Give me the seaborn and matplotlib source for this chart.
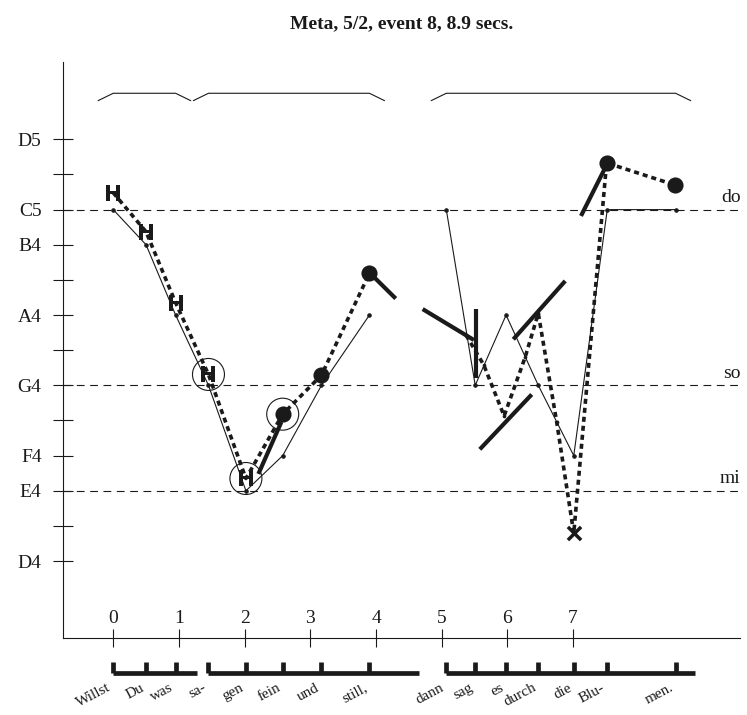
import matplotlib
matplotlib.use('Agg')
import matplotlib.pyplot as plt
import seaborn as sns

# syllables of the sung text and their onset times (secs)
syllables = ["Willst", "Du", "was", "sa-", "gen", "fein", "und", "still,",
             "dann", "sag", "es", "durch", "die", "Blu-", "men."]
syl_times = [0.0, 0.5, 0.95, 1.45, 2.02, 2.58, 3.17, 3.9,
             5.07, 5.51, 5.98, 6.47, 7.01, 7.52, 8.56]
score_pitch = [72, 71, 69, 67, 64, 65, 67, 69,
               72, 67, 69, 67, 65, 72, 72]

# phrases: first / last syllable index and end of the sounding phrase
phrase_first = [0, 3, 8]
phrase_last = [2, 7, 14]
phrase_end = [1.28, 4.65, 8.85]

# performed pitch contour (dotted), two phrases
contour1_t = [0.0, 0.5, 0.95, 1.45, 2.02, 2.58, 3.17, 3.9]
contour1_p = [72.48, 71.37, 69.35, 67.31, 64.35, 66.18, 67.29, 70.19]
contour2_t = [5.37, 5.64, 5.95, 6.27, 6.47, 6.75, 7.01, 7.51, 8.55]
contour2_p = [68.43, 67.58, 66.13, 67.80, 69.05, 65.96, 62.79, 73.33, 72.70]

# short pitch slope segments
slope_t0 = [2.56, 3.91, 4.71, 5.52, 5.58, 6.09, 7.51]
slope_p0 = [65.96, 70.19, 69.17, 69.17, 65.18, 68.31, 73.27]
slope_t1 = [2.21, 4.30, 5.49, 5.52, 6.37, 6.88, 7.12]
slope_p1 = [64.48, 69.47, 68.29, 67.20, 66.74, 69.97, 71.82]

# marker groups
h_t = contour1_t[:5]
h_p = contour1_p[:5]
circled_t = contour1_t[3:6]
circled_p = contour1_p[3:6]
dot_t = contour1_t[5:] + contour2_t[7:]
dot_p = contour1_p[5:] + contour2_p[7:]
x_t = [contour2_t[6]]
x_p = [contour2_p[6]]
small_t = contour2_t[:6]
small_p = contour2_p[:6]

ref_pitch = [72, 67, 64]
ref_names = ["do", "so", "mi"]

pitch_ticks = list(range(62, 75))
pitch_labels = ["D4", "", "E4", "F4", "", "G4", "", "A4", "", "B4", "C5", "", "D5"]
time_ticks = list(range(8))

sns.set_theme(style="white")
plt.rcParams['font.family'] = 'serif'
plt.rcParams['font.serif'] = ['Liberation Serif', 'DejaVu Serif']
plt.rcParams['text.color'] = 'black'

fig = plt.figure(figsize=(7.47, 7.15), dpi=100)
ax = fig.add_axes([0.0847, 0.1081, 0.9059, 0.8052])
ax.set_xlim(-0.76, 9.54)
ax.set_ylim(59.82, 76.2)

# reference lines
for p, name in zip(ref_pitch, ref_names):
    ax.axhline(p, color="k", lw=0.8, linestyle=(0, (7, 5)), zorder=1)
    ax.text(9.55, p + 0.1, name, ha="right", va="bottom", fontsize=14, color="k")

# score melody (thin line)
for a, b in [(0, 8), (8, 15)]:
    sns.lineplot(x=syl_times[a:b], y=score_pitch[a:b], ax=ax, color="k", lw=0.8,
                 marker="o", markersize=2.5, mec="k", sort=False, estimator=None, zorder=2)

# performed contour (dotted thick line)
for ct, cp in [(contour1_t, contour1_p), (contour2_t, contour2_p)]:
    sns.lineplot(x=ct, y=cp, ax=ax, color="k", lw=2.6, linestyle=(0, (1.4, 1.1)),
                 sort=False, estimator=None, zorder=3)

# slope segments
for t0, p0, t1, p1 in zip(slope_t0, slope_p0, slope_t1, slope_p1):
    ax.plot([t0, t1], [p0, p1], color="k", lw=3.0, solid_capstyle="butt", zorder=4)

# markers
sns.scatterplot(x=small_t, y=small_p, ax=ax, color="k", s=7, linewidth=0, zorder=5)
sns.scatterplot(x=h_t, y=h_p, ax=ax, color="k", marker=r"$\mathbf{H}$", s=140,
                linewidth=0, zorder=6)
sns.scatterplot(x=dot_t, y=dot_p, ax=ax, color="k", s=135, linewidth=0, zorder=6)
sns.scatterplot(x=x_t, y=x_p, ax=ax, color="k", marker="x", s=90, linewidth=2.5, zorder=6)
ax.scatter(circled_t, circled_p, s=530, facecolors="none", edgecolors="k",
           linewidths=0.8, zorder=6)

# phrase brackets at the top
for i0, i1 in zip(phrase_first, phrase_last):
    ta, tb = syl_times[i0], syl_times[i1]
    ax.plot([ta - 0.23, ta, tb, tb + 0.23], [75.10, 75.31, 75.31, 75.10],
            color="k", lw=0.8, zorder=2)

# syllable brackets and lyrics below the axis
for i0, i1, te in zip(phrase_first, phrase_last, phrase_end):
    ax.plot([syl_times[i0], te], [58.81, 58.81], color="k", lw=3.4,
            solid_capstyle="butt", clip_on=False)
    for i in range(i0, i1 + 1):
        ax.plot([syl_times[i], syl_times[i]], [58.81, 59.14], color="k", lw=3.4,
                solid_capstyle="butt", clip_on=False)
for t, s in zip(syl_times, syllables):
    ax.text(t, 58.58, s, ha="right", va="top", rotation=28, fontsize=11, color="k")

ax.set_xticks(time_ticks)
ax.set_xticklabels([str(t) for t in time_ticks])
ax.set_yticks(pitch_ticks)
ax.set_yticklabels(pitch_labels)
ax.tick_params(axis="x", direction="inout", length=13, width=0.8, pad=-26.4,
               labelsize=14, bottom=True, colors="k")
ax.tick_params(axis="y", direction="inout", length=14.4, width=0.8, pad=8.4,
               labelsize=14, left=True, colors="k")

for side in ["top", "right"]:
    ax.spines[side].set_visible(False)
for side in ["left", "bottom"]:
    ax.spines[side].set_color("k")
    ax.spines[side].set_linewidth(0.8)

ax.set_title("Meta, 5/2, event 8, 8.9 secs.", fontsize=14, fontweight="bold",
             pad=24.3, color="k")

fig.savefig("out.png", dpi=100)
